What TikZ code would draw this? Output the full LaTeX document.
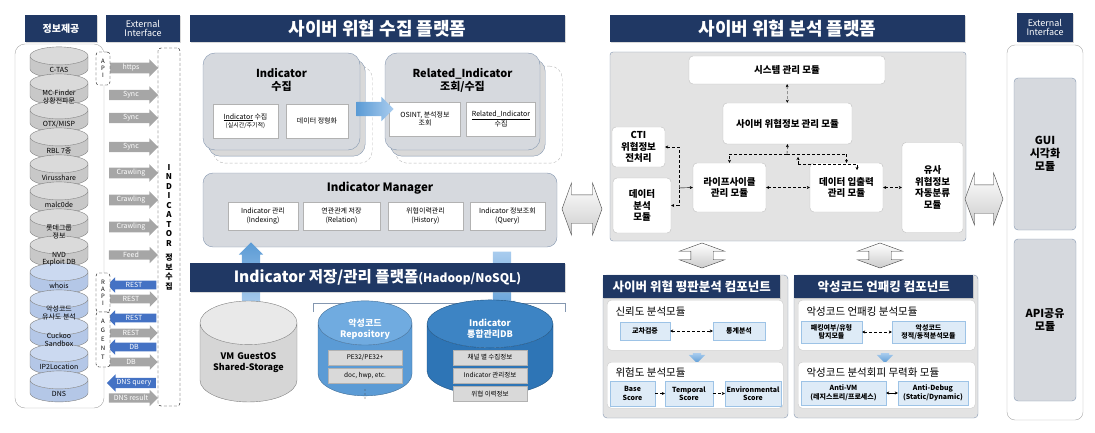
\documentclass[tikz,border=0pt]{standalone}
\usepackage{fontspec}
\setmainfont{Noto Sans CJK KR}
\usetikzlibrary{shapes.geometric,shapes.arrows,arrows.meta,shadows,positioning}

\definecolor{navybg}{HTML}{203864}
\definecolor{panelgray}{HTML}{D6D9DE}
\definecolor{panelgray2}{HTML}{E3E3E3}
\definecolor{boxline}{HTML}{8497B0}
\definecolor{cylgray}{HTML}{C8C8C8}
\definecolor{cylgraytop}{HTML}{DADADA}
\definecolor{cylline}{HTML}{808080}
\definecolor{cylblue}{HTML}{B4C7E7}
\definecolor{cylbluetop}{HTML}{CBD9F0}
\definecolor{arrgray}{HTML}{A6A6A6}
\definecolor{arrblue}{HTML}{4472C4}
\definecolor{bigblue}{HTML}{5B9BD5}
\definecolor{bigbluelt}{HTML}{A9CCEE}
\definecolor{repoblue}{HTML}{5B9BD5}
\definecolor{repotop}{HTML}{70ABE0}
\definecolor{dbblue}{HTML}{2E75B6}
\definecolor{dbtop}{HTML}{3D84C4}
\definecolor{cellgray}{HTML}{D9D9D9}
\definecolor{bcellfill}{HTML}{DEEBF7}
\definecolor{bcellline}{HTML}{9DC3E6}

\begin{document}
\begin{tikzpicture}[x=1pt,y=-1pt,
  navy/.style={fill=navybg,text=white,inner sep=0pt,
    drop shadow={opacity=.3,shadow xshift=1.2pt,shadow yshift=-1.2pt}},
  cyl/.style={cylinder,shape border rotate=90,aspect=0.31,draw=cylline,
    text width=58,minimum height=31,inner sep=0pt,align=center,
    font=\fontsize{7}{7.5}\selectfont,cylinder uses custom fill},
  gcyl/.style={cylinder body fill=cylgray,cylinder end fill=cylgraytop},
  bcyl/.style={cylinder body fill=cylblue,cylinder end fill=cylbluetop},
  srclbl/.style={align=center,inner sep=0pt,font=\fontsize{7}{7.5}\selectfont},
  vbox/.style={draw,densely dashed,rounded corners=3,fill=white,minimum width=14,
    inner sep=0pt,align=center,font=\fontsize{6}{7}\selectfont},
  garr/.style={single arrow,fill=arrgray,text=white,font=\fontsize{7}{7.5}\selectfont,
    inner ysep=1.6pt,inner xsep=1pt,single arrow head extend=3.5pt,minimum height=49},
  barr/.style={garr,fill=arrblue,shape border rotate=180},
  bigarr/.style={single arrow,left color=bigblue,right color=bigbluelt,
    text height=0pt,text depth=0pt,text width=0pt},
  hollow/.style={double arrow,draw=black!75,top color=white,bottom color=gray!40,
    text height=0pt,text depth=0pt,text width=0pt,double arrow tip angle=140},
  stack/.style={draw=boxline,fill=panelgray,rounded corners=12,minimum width=157,minimum height=97},
  ghost/.style={draw=gray!55,densely dashed,rounded corners=12},
  sub/.style={draw=gray!60,fill=white,align=center,inner sep=1pt,font=\fontsize{7}{8.5}\selectfont},
  cell/.style={fill=cellgray,draw=gray!60,minimum width=74,minimum height=15,inner sep=0pt,
    font=\fontsize{6.5}{7}\selectfont},
  mod/.style={draw=gray!50,fill=white,rounded corners=4,align=center,inner sep=1pt,
    font=\bfseries\fontsize{9.5}{11.5}\selectfont},
  comp/.style={draw=boxline,fill=panelgray2,rounded corners=4},
  inbox/.style={draw=gray!40,fill=white,rounded corners=4,anchor=north west},
  bcell/.style={draw=bcellline,fill=bcellfill,align=center,inner sep=0pt,
    font=\bfseries\fontsize{7}{8.5}\selectfont},
  link/.style={densely dashed,{Stealth[length=3pt,width=3pt]}-{Stealth[length=3pt,width=3pt]}},
  tip/.style={densely dashed,-{Stealth[length=3pt,width=3pt]}}
  ]
  \useasboundingbox (0,0) rectangle (1095,433);

  % ---- sources
  \node[navy,font=\bfseries\fontsize{10}{11}\selectfont,minimum width=72,minimum height=27] (hinfo) at (61,28.5) {정보제공};
  \node[navy,font=\fontsize{9}{9.5}\selectfont,align=center,minimum width=74,minimum height=27] (hext) at (143,28.5) {External\\Interface};
  \node[draw=gray!70,rounded corners=10,minimum width=89,minimum height=364] (srcbox) at (59.5,226) {};
  \foreach \i in {0,...,7}
    \node[cyl,gcyl] (src\i) at (59,{67+27*\i}) {};
  \foreach \i in {8,...,12}
    \node[cyl,bcyl] (src\i) at (59,{67+27*\i}) {};
  \foreach \lbl [count=\i from 0] in {C-TAS,{MC-Finder\\상황전파문},OTX/MISP,RBL 7종,Virusshare,malc0de,{롯데그룹\\정보},
      {NVD\\Exploit DB},whois,{악성코드\\유사도 분석},{Cuckoo\\Sandbox},IP2Location,DNS}
    \node[srclbl] (srct\i) at (59,{70+27*\i}) {\lbl};

  % ---- interface arrows
  \foreach \y/\lbl in {68/https,95/Sync,118/Sync,147/Sync,173/Crawling,200/Crawling,227/Crawling,255/Feed,299/REST,333/REST,362/DB,398/DNS result}
    \node[garr] (out\y) at (131,\y) {\lbl};
  \foreach \y/\lbl in {285/REST,318/REST,347/DB,383/DNS query}
    \node[barr] (in\y) at (134,\y) {\lbl};
  \node[vbox,minimum height=33] (api) at (103,68.5) {A\\P\\I};
  \node[vbox,minimum height=39] (rapi) at (103,292.5) {R\\A\\P\\I};
  \node[vbox,minimum height=55,font=\fontsize{6}{9}\selectfont] (agent) at (103,339.5) {A\\G\\E\\N\\T};
  \node[vbox,minimum width=22,minimum height=358,font=\bfseries\fontsize{8}{9.5}\selectfont] (ind) at (169,227)
    {I\\N\\D\\I\\C\\A\\T\\O\\R\\[5pt]정\\보\\수\\집};

  % ---- collection platform
  \node[navy,font=\bfseries\fontsize{18}{19}\selectfont,minimum width=375,minimum height=27] (hcol) at (377.5,28.5) {사이버 위협 수집 플랫폼};

  \node[ghost,minimum width=159,minimum height=97,anchor=north west] at (213,66) {};
  \node[stack,fill=gray!30,anchor=north west] at (208,59) {};
  \node[stack] (icol) at (281.5,101.5) {};
  \node[font=\bfseries\fontsize{11}{13}\selectfont,align=center] (icolt) at (281.5,80) {Indicator\\수집};
  \node[sub,minimum width=65,minimum height=34] (icola) at (245.5,121) {\underline{Indicator} 수집\\{\fontsize{6}{7}\selectfont(실시간/주기적)}};
  \node[sub,minimum width=62,minimum height=34] (icolb) at (317,121) {데이터 정형화};

  \node[ghost,minimum width=167,minimum height=97,anchor=north west] at (395,66) {};
  \node[stack,fill=gray!30,minimum width=155,anchor=north west] at (390,59) {};
  \node[stack,minimum width=155] (rcol) at (462.5,101.5) {};
  \node[font=\bfseries\fontsize{11}{13}\selectfont,align=center] (rcolt) at (462.5,80) {Related\_Indicator\\조회/수집};
  \node[sub,minimum width=71,minimum height=34] (rcola) at (425,119) {OSINT, 분석정보\\조회};
  \node[sub,minimum width=69,minimum height=34] (rcolb) at (501,119) {\underline{Related\_Indicator}\\수집};

  \node[bigarr,minimum height=37,inner xsep=0pt,inner ysep=7pt,single arrow head extend=5pt] (flow) at (371.5,109) {};

  \node[stack,minimum width=354,minimum height=74,rounded corners=10] (mgr) at (380,210) {};
  \node[font=\bfseries\fontsize{11.5}{13}\selectfont] (mgrt) at (380,188) {Indicator Manager};
  \node[sub,minimum width=70,minimum height=28] (mgra) at (263,216) {Indicator 관리\\(Indexing)};
  \node[sub,minimum width=77,minimum height=28] (mgrb) at (341.5,216) {연관관계 저장\\(Relation)};
  \node[sub,minimum width=75,minimum height=28] (mgrc) at (425.5,216) {위협이력관리\\(History)};
  \node[sub,minimum width=75,minimum height=28] (mgrd) at (507.5,216) {Indicator 정보조회\\(Query)};

  % ---- storage platform
  \node[bigarr,shape border rotate=90,minimum height=63,inner ysep=0pt,inner xsep=9pt,single arrow head extend=3pt,
    top color=bigblue,bottom color=bigbluelt] (up) at (251,278.5) {};
  \node[bigarr,shape border rotate=270,minimum height=63,inner ysep=0pt,inner xsep=9pt,single arrow head extend=4.5pt,
    top color=bigbluelt,bottom color=bigblue] (down) at (502,278.5) {};
  \node[navy,font=\bfseries\fontsize{15.5}{17}\selectfont,minimum width=375,minimum height=29] (store) at (377.5,277.5)
    {Indicator 저장/관리 플랫폼{\fontsize{12}{13}\selectfont(Hadoop/NoSQL)}};
  \draw[boxline] (313,312) |- (565,303) -- (565,312);

  \node[cyl,aspect=0.45,text width=97,minimum height=101,cylinder body fill=cylgraytop!80!cylgray,
    cylinder end fill=cylgraytop!60!white,font=\bfseries\fontsize{9}{11}\selectfont] (vm) at (248.5,362.5) {VM GuestOS\\Shared-Storage};
  \node[cyl,aspect=0.47,text width=94,minimum height=95,draw=repoblue!70!black,cylinder body fill=repoblue,
    cylinder end fill=repotop] (repo) at (365,359.5) {};
  \node[text=white,font=\bfseries\fontsize{9}{11}\selectfont,align=center] (repot) at (365,329) {악성코드\\Repository};
  \node[cell] (repo1) at (365,357.5) {PE32/PE32+};
  \node[cell] (repo2) at (365,375.5) {doc, hwp, etc.};
  \foreach \d in {390,394,398}
    \fill[black!70] (365,\d) circle (0.7);
  \node[cyl,aspect=0.38,text width=126,minimum height=95,draw=dbblue!70!black,cylinder body fill=dbblue,
    cylinder end fill=dbtop] (db) at (490,359.5) {};
  \node[text=white,font=\bfseries\fontsize{9}{11}\selectfont,align=center] (dbt) at (490,329) {Indicator\\통합관리DB};
  \node[cell] (db1) at (490,357.5) {채널 별 수집정보};
  \node[cell] (db2) at (490,375.5) {Indicator 관리정보};
  \node[cell] (db3) at (490,394) {위협 이력정보};

  \node[hollow,minimum height=40,inner xsep=0pt,inner ysep=14pt,double arrow head extend=12pt] (link1) at (582,209) {};

  % ---- analysis platform
  \node[navy,font=\bfseries\fontsize{18}{19}\selectfont,minimum width=355,minimum height=27] (hana) at (787.5,28.5) {사이버 위협 분석 플랫폼};
  \node[draw=boxline,fill=panelgray2,rounded corners=3,minimum width=356,minimum height=189] (ana) at (788,146.5) {};
  \node[mod,minimum width=196,minimum height=28] (sysm) at (787,70) {시스템 관리 모듈};
  \node[mod,minimum width=129,minimum height=41] (thrm) at (787.5,123.5) {사이버 위협정보 관리 모듈};
  \node[mod,minimum width=53,minimum height=40] (cti) at (638.5,147) {CTI\\위협정보\\전처리};
  \node[mod,minimum width=58,minimum height=55] (dana) at (642,205.5) {데이터\\분석\\모듈};
  \node[mod,minimum width=73,minimum height=49] (life) at (729.5,187.5) {라이프사이클\\관리 모듈};
  \node[mod,minimum width=73,minimum height=49] (dio) at (846.5,187.5) {데이터 입출력\\관리 모듈};
  \node[mod,minimum width=61,minimum height=90] (sim) at (932.5,187.5) {유사\\위협정보\\자동분류\\모듈};

  \coordinate (j1) at (787,154);
  \coordinate (j2) at (798,164);
  \coordinate (jc) at (679,188);
  \draw[link] (sysm) -- (thrm);
  \draw[tip] (j1) -- (thrm.south);
  \draw[tip] (j1) -| (life.north);
  \draw[tip] (j1) -| (dio.north);
  \draw[tip] (j2) -- (798,157);
  \draw[tip] (j2) -- (857,164) -- (857,170);
  \draw[link] (cti.east) -| (jc) |- (dana.east);
  \draw[-{Stealth[length=3pt,width=3pt]}] (jc) -- (life.west);
  \draw[link] (life) -- (dio);
  \draw[link] (dio) -- (sim);

  \node[hollow,shape border rotate=90,minimum height=25,inner ysep=0pt,inner xsep=11pt,double arrow head extend=11.5pt] (link2) at (702,255.5) {};
  \node[hollow,shape border rotate=90,minimum height=25,inner ysep=0pt,inner xsep=11pt,double arrow head extend=11.5pt] (link4) at (880,255.5) {};

  % ---- reputation component
  \node[comp,minimum width=185,minimum height=143] (rep) at (695.5,346.5) {};
  \node[navy,font=\bfseries\fontsize{12.5}{13}\selectfont,minimum width=177,minimum height=23,anchor=north west] (rephd) at (603,275) {사이버 위협 평판분석 컴포넌트};
  \node[inbox,minimum width=176,minimum height=50] (trust) at (607,300) {};
  \node[anchor=west,font=\fontsize{10.5}{12}\selectfont] (trustt) at (612,312) {신뢰도 분석모듈};
  \node[bcell,minimum width=50,minimum height=18] (cross) at (645,331) {교차검증};
  \node[bcell,minimum width=52,minimum height=18] (stat) at (739,331) {통계분석};
  \draw[link] (cross) -- (stat);
  \node[bigarr,shape border rotate=270,minimum height=10,inner ysep=0pt,inner xsep=4pt,single arrow head extend=4pt,
    top color=bigbluelt,bottom color=bigblue] (rdown) at (697,356) {};
  \node[inbox,minimum width=176,minimum height=46] (risk) at (607,362) {};
  \node[anchor=west,font=\fontsize{10.5}{12}\selectfont] (riskt) at (612,373) {위험도 분석모듈};
  \node[bcell,minimum width=45,minimum height=25] (base) at (632.5,393.5) {Base\\Score};
  \node[bcell,minimum width=48,minimum height=25] (temp) at (689,393.5) {Temporal\\Score};
  \node[bcell,minimum width=56,minimum height=25] (env) at (753,393.5) {Environmental\\Score};
  \draw[tip] (base) -- (temp);
  \draw[tip] (temp) -- (env);

  % ---- unpacking component
  \node[comp,minimum width=184,minimum height=143] (mal) at (886,346.5) {};
  \node[navy,font=\bfseries\fontsize{12.5}{13}\selectfont,minimum width=179,minimum height=23,anchor=north west] (malhd) at (794,275) {악성코드 언패킹 컴포넌트};
  \node[inbox,minimum width=177,minimum height=50] (unpk) at (798,300) {};
  \node[anchor=west,font=\fontsize{10.5}{12}\selectfont] (unpkt) at (803,312) {악성코드 언패킹 분석모듈};
  \node[bcell,minimum width=61,minimum height=22] (pack) at (831.5,332) {패킹여부/유형\\탐지모듈};
  \node[bcell,minimum width=73,minimum height=22] (stdy) at (928.5,332) {악성코드\\정적/동적분석모듈};
  \draw[link] (pack) -- (stdy);
  \node[bigarr,shape border rotate=270,minimum height=10,inner ysep=0pt,inner xsep=4pt,single arrow head extend=4pt,
    top color=bigbluelt,bottom color=bigblue] (mdown) at (885,356) {};
  \node[inbox,minimum width=177,minimum height=46] (evade) at (798,362) {};
  \node[anchor=west,font=\fontsize{10.5}{12}\selectfont] (evadet) at (803,373) {악성코드 분석회피 무력화 모듈};
  \node[bcell,minimum width=85,minimum height=24] (avm) at (843.5,393) {Anti-VM\\(레지스트리/프로세스)};
  \node[bcell,minimum width=70,minimum height=24] (adbg) at (933,393) {Anti-Debug\\(Static/Dynamic)};
  \draw[{Stealth[length=3pt,width=3pt]}-{Stealth[length=3pt,width=3pt]}] (avm) -- (adbg);

  % ---- external interface (out)
  \node[hollow,minimum height=38,inner xsep=0pt,inner ysep=14pt,double arrow head extend=12pt] (link3) at (984,199) {};
  \node[navy,font=\fontsize{9}{9.5}\selectfont,align=center,minimum width=56,minimum height=29] (hext2) at (1045,27.5) {External\\Interface};
  \node[draw=gray!70,rounded corners=8,minimum width=76,minimum height=375] (outbox) at (1045,232.5) {};
  \node[mod,fill=panelgray,draw=boxline,minimum width=62,minimum height=152,font=\bfseries\fontsize{11}{13}\selectfont] (gui) at (1045,154) {GUI\\시각화\\모듈};
  \node[mod,fill=panelgray,draw=boxline,minimum width=62,minimum height=162,font=\bfseries\fontsize{11}{13}\selectfont] (apis) at (1045,320) {API공유\\모듈};
\end{tikzpicture}
\end{document}
